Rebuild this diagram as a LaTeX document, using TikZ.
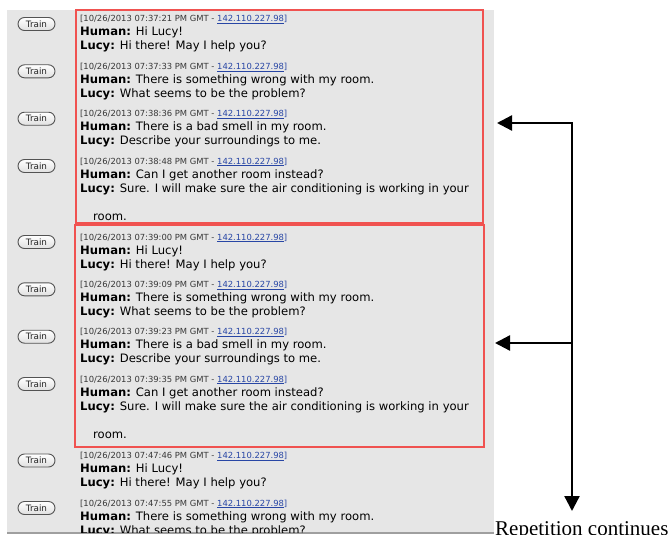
\documentclass[tikz,border=0pt]{standalone}
\usepackage{fontspec}
\usetikzlibrary{arrows.meta}
\newfontfamily\chatfont{DejaVu Sans}
\newfontfamily\notefont{Liberation Serif}
\definecolor{panelgray}{RGB}{230,230,230}
\definecolor{boxred}{RGB}{240,82,80}
\definecolor{linkblue}{RGB}{40,70,165}
\definecolor{stampgray}{RGB}{55,55,55}

% one log entry: id, baseline of the Human line, time, human, lucy
\newcommand{\chatentry}[5]{%
  \node[trainbtn] (train#1) at (36.5,#2-12) {Train};
  \node[stamp] (stamp#1) at (80,#2-14) {[10/26/2013 #3 PM GMT - {\color{linkblue}\underline{142.110.227.98}]}};
  \node[msg] (human#1) at (80,#2) {\textbf{Human:} #4};
  \node[msg] (lucy#1) at (80,#2+14) {\textbf{Lucy:} #5};
}

\begin{document}
\begin{tikzpicture}[x=1pt,y=-1pt,
    trainbtn/.style={draw=gray!65!black, line width=0.9pt, rounded corners=6.5pt, minimum width=37pt,
      minimum height=13pt, inner sep=0pt, top color=white, bottom color=gray!25, text=black!85,
      font=\chatfont\fontsize{8.8}{10}\selectfont},
    stamp/.style={anchor=base west, inner sep=0pt, text=stampgray, font=\chatfont\fontsize{8.4}{10}\selectfont},
    msg/.style={anchor=base west, inner sep=0pt, text=black, font=\chatfont\fontsize{11.6}{14}\selectfont},
    redbox/.style={draw=boxred, line width=2pt},
    arr/.style={line width=2.3pt, line join=miter, -{Triangle[length=15pt,width=15pt]}}]

    \useasboundingbox (0,0) rectangle (669,535);

    % panel del chat
    \fill[panelgray] (7,10) rectangle (494,533);
    \draw[gray!75, line width=1.2pt] (7,533) -- (494,533);

    \begin{scope}
    \clip (7,10) rectangle (494,532.4);
    % primera vuelta
    \chatentry{1}{36}{07:37:21}{Hi Lucy!}{Hi there! May I help you?}
    \chatentry{2}{83.3}{07:37:33}{There is something wrong with my room.}{What seems to be the problem?}
    \chatentry{3}{130.7}{07:38:36}{There is a bad smell in my room.}{Describe your surroundings to me.}
    \chatentry{4}{178}{07:38:48}{Can I get another room instead?}{Sure. I will make sure the air conditioning is working in your}
    \node[msg] (wrap4) at (93,220) {room.};
    % segunda vuelta
    \chatentry{5}{254}{07:39:00}{Hi Lucy!}{Hi there! May I help you?}
    \chatentry{6}{301.3}{07:39:09}{There is something wrong with my room.}{What seems to be the problem?}
    \chatentry{7}{348.7}{07:39:23}{There is a bad smell in my room.}{Describe your surroundings to me.}
    \chatentry{8}{396}{07:39:35}{Can I get another room instead?}{Sure. I will make sure the air conditioning is working in your}
    \node[msg] (wrap8) at (93,438) {room.};
    % tercera vuelta
    \chatentry{9}{472.5}{07:47:46}{Hi Lucy!}{Hi there! May I help you?}
    \chatentry{10}{520}{07:47:55}{There is something wrong with my room.}{What seems to be the problem?}
    \end{scope}

    % bloques repetidos
    \draw[redbox] (76,10.5) rectangle (482.5,223);
    \draw[redbox] (75,225) rectangle (483.5,446.5);

    % flechas
    \coordinate (spinetop) at (572,123);
    \coordinate (spinemid) at (572,343);
    \coordinate (spineend) at (572,511);
    \coordinate (tip1) at (497,123);
    \coordinate (tip2) at (495,343);
    \draw[arr, {Triangle[length=15pt,width=15pt]}-{Triangle[length=15pt,width=15pt]}] (tip1) -- (spinetop) -- (spineend);
    \draw[arr] (spinemid) -- (tip2);

    %leyenda
    \node[anchor=base west, inner sep=0pt, font=\notefont\fontsize{21}{24}\selectfont] (repeat) at (495,535.5) {Repetition continues};

\end{tikzpicture}
\end{document}
